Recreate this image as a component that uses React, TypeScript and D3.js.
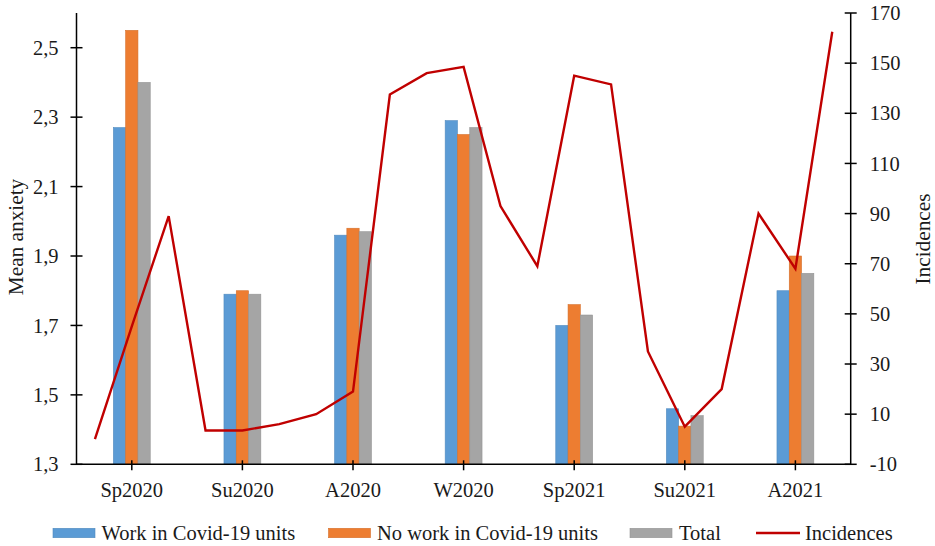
import * as d3 from 'd3';

const seasons = ['Sp2020', 'Su2020', 'A2020', 'W2020', 'Sp2021', 'Su2021', 'A2021'];
const seriesNames = ['Work in Covid-19 units', 'No work in Covid-19 units', 'Total'];
const seriesColors = ['#5B9BD5', '#ED7D31', '#A5A5A5'];

const workCovid = [2.27, 1.79, 1.96, 2.29, 1.70, 1.46, 1.80];
const noWorkCovid = [2.55, 1.80, 1.98, 2.25, 1.76, 1.41, 1.90];
const total = [2.40, 1.79, 1.97, 2.27, 1.73, 1.44, 1.85];

const months = [
  'Mar20', 'Apr20', 'May20', 'Jun20', 'Jul20', 'Aug20', 'Sep20', 'Oct20', 'Nov20',
  'Dec20', 'Jan21', 'Feb21', 'Mar21', 'Apr21', 'May21', 'Jun21', 'Jul21', 'Aug21',
  'Sep21', 'Oct21', 'Nov21',
];
const incidences = [0, 45, 89, 3.5, 3.5, 6, 10, 19, 137.5, 146, 148.5, 93, 69, 145, 141.5, 35, 5, 20, 90, 68, 162.5];

const leftTicks = [1.3, 1.5, 1.7, 1.9, 2.1, 2.3, 2.5];
const rightTicks = [-10, 10, 30, 50, 70, 90, 110, 130, 150, 170];

const W = 935;
const H = 546;
const margin = { left: 76.5, right: 84.3, top: 13, bottom: 81.7 };
const font = '"Liberation Serif", "Times New Roman", serif';
const textColor = '#1a1a1a';
const fs = 20.5;

export default function App() {
  const x0 = margin.left;
  const x1 = W - margin.right;
  const yTop = margin.top;
  const yBot = H - margin.bottom;

  const x = d3.scaleBand<string>().domain(seasons).range([x0, x1]);
  const band = x.bandwidth();
  const xInner = d3.scaleBand<string>().domain(seriesNames).range([band / 3, (2 * band) / 3]);
  const xMonth = d3.scaleBand<string>().domain(months).range([x0, x1]);

  const yL = d3.scaleLinear().domain([1.3, 2.6]).range([yBot, yTop]);
  const yR = d3.scaleLinear().domain([-10, 170]).range([yBot, yTop]);

  const values = [workCovid, noWorkCovid, total];
  const fmt = (v: number) => d3.format('.1f')(v).replace('.', ',');

  const line = d3
    .line<number>()
    .x((_, i) => (xMonth(months[i]) as number) + xMonth.bandwidth() / 2)
    .y((d) => yR(d));

  const legendY = 533;
  const legendItems = [
    { label: seriesNames[0], color: seriesColors[0], sx: 53, tx: 101.5 },
    { label: seriesNames[1], color: seriesColors[1], sx: 328.5, tx: 377 },
    { label: seriesNames[2], color: seriesColors[2], sx: 630, tx: 679 },
  ];

  return (
    <svg
      width={W}
      height={H}
      style={{ position: 'absolute', left: 0, top: 0, background: '#fff' }}
      fontFamily={font}
    >
      <rect width={W} height={H} fill="#fff" />

      {/* bars */}
      {seasons.map((s, ci) => (
        <g key={s} transform={`translate(${x(s)},0)`}>
          {seriesNames.map((n, si) => (
            <rect
              key={n}
              x={xInner(n)}
              y={yL(values[si][ci])}
              width={xInner.bandwidth()}
              height={yBot - yL(values[si][ci])}
              fill={seriesColors[si]}
              stroke={d3.color(seriesColors[si])!.darker(0.3).toString()}
              strokeWidth={0.6}
            />
          ))}
        </g>
      ))}

      {/* incidences line */}
      <path d={line(incidences) || ''} fill="none" stroke="#C00000" strokeWidth={2.4} strokeLinejoin="miter" />

      {/* left axis */}
      <line x1={x0} x2={x0} y1={yTop} y2={yBot} stroke="#000" strokeWidth={1.5} />
      {leftTicks.map((t) => (
        <g key={t}>
          <line x1={x0 - 6} x2={x0 + 6} y1={yL(t)} y2={yL(t)} stroke="#000" strokeWidth={1.5} />
          <text x={x0 - 18} y={yL(t)} dy="0.35em" textAnchor="end" fontSize={fs} fill={textColor}>
            {fmt(t)}
          </text>
        </g>
      ))}

      {/* right axis */}
      <line x1={x1} x2={x1} y1={yTop} y2={yBot} stroke="#000" strokeWidth={1.5} />
      {rightTicks.map((t) => (
        <g key={t}>
          <line x1={x1 - 6} x2={x1 + 6} y1={yR(t)} y2={yR(t)} stroke="#000" strokeWidth={1.5} />
          <text x={x1 + 19} y={yR(t)} dy="0.35em" textAnchor="start" fontSize={fs} fill={textColor}>
            {t}
          </text>
        </g>
      ))}

      {/* x axis */}
      <line x1={x0} x2={x1} y1={yBot} y2={yBot} stroke="#000" strokeWidth={1.5} />
      {seasons.map((s) => {
        const cx = (x(s) as number) + band / 2;
        return (
          <g key={s}>
            <line x1={cx} x2={cx} y1={yBot - 4} y2={yBot + 6} stroke="#000" strokeWidth={1.5} />
            <text x={cx} y={yBot + 26} dy="0.35em" textAnchor="middle" fontSize={fs} fill={textColor}>
              {s}
            </text>
          </g>
        );
      })}

      {/* axis titles */}
      <text
        transform={`translate(16,237) rotate(-90)`}
        dy="0.35em"
        textAnchor="middle"
        fontSize={21.3}
        fill={textColor}
      >
        Mean anxiety
      </text>
      <text
        transform={`translate(923,239) rotate(-90)`}
        dy="0.35em"
        textAnchor="middle"
        fontSize={21.3}
        fill={textColor}
      >
        Incidences
      </text>

      {/* legend */}
      {legendItems.map((it) => (
        <g key={it.label}>
          <rect
            x={it.sx}
            y={legendY - 4.7}
            width={42}
            height={9.4}
            fill={it.color}
            stroke={d3.color(it.color)!.darker(0.3).toString()}
            strokeWidth={0.6}
          />
          <text x={it.tx} y={legendY} dy="0.35em" fontSize={fs} fill={textColor}>
            {it.label}
          </text>
        </g>
      ))}
      <line x1={756} x2={800} y1={legendY} y2={legendY} stroke="#C00000" strokeWidth={2.4} />
      <text x={805} y={legendY} dy="0.35em" fontSize={fs} fill={textColor}>
        Incidences
      </text>
    </svg>
  );
}
